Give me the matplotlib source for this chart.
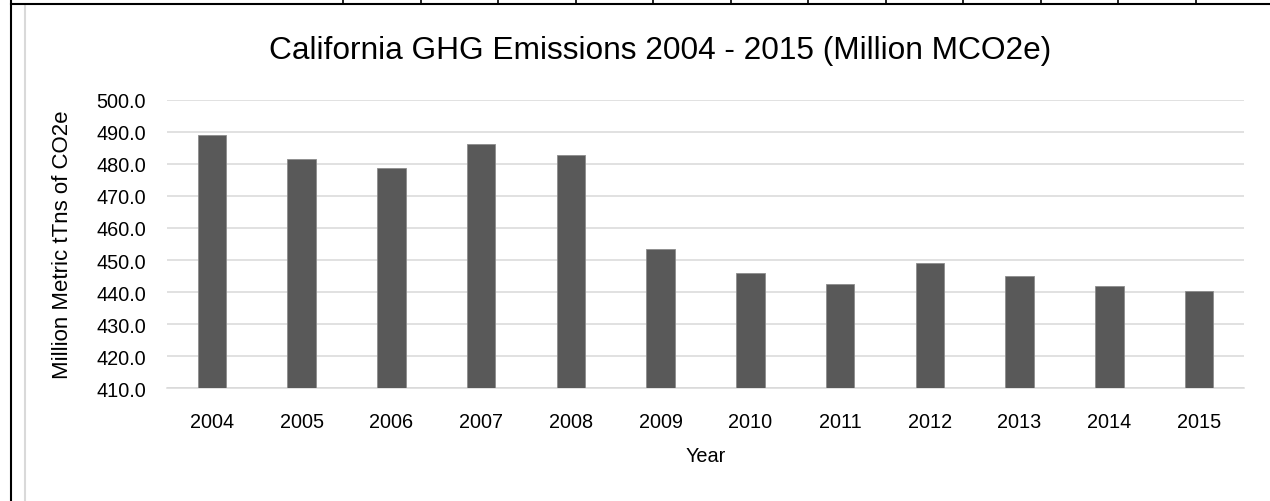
import numpy as np
import matplotlib
matplotlib.use('Agg')
import matplotlib.pyplot as plt
from matplotlib.lines import Line2D

plt.rcParams['font.family'] = ['Liberation Sans', 'DejaVu Sans']

years = ['2004', '2005', '2006', '2007', '2008', '2009',
         '2010', '2011', '2012', '2013', '2014', '2015']
emissions = [489.0, 481.5, 478.6, 486.1, 482.8, 453.4,
             446.1, 442.4, 449.1, 445.1, 441.8, 440.3]
yticks = [410, 420, 430, 440, 450, 460, 470, 480, 490, 500]

W, H = 1270, 502
fig = plt.figure(figsize=(W / 100, H / 100), dpi=100)
ax = fig.add_axes((167 / W, 1 - 389.3 / H, 1077 / W, 288.6 / H))

x = np.arange(len(years))
ax.bar(x, emissions, width=0.32, bottom=0, color='#595959',
       edgecolor='#8c8c8c', linewidth=0.6, zorder=3)

ax.set_xlim(-0.5, len(years) - 0.5)
ax.set_ylim(410, 500)
ax.set_yticks(yticks)
ax.set_yticklabels([f'{v:.1f}' for v in yticks])
ax.set_xticks(x)
ax.set_xticklabels(years)
ax.tick_params(axis='both', length=0, labelsize=14.3, colors='#000000')
ax.tick_params(axis='y', pad=15)
ax.tick_params(axis='x', pad=17)

ax.grid(axis='y', color='#d9d9d9', linewidth=1.1, zorder=0)
for s in ['top', 'right', 'left']:
    ax.spines[s].set_visible(False)
ax.spines['bottom'].set_color('#d9d9d9')
ax.spines['bottom'].set_linewidth(1.1)

ax.set_xlabel('Year', fontsize=14.3, labelpad=11)
ax.set_ylabel('Million Metric tTns of CO2e', fontsize=16)
ax.yaxis.set_label_coords(-0.0873, 0.5)

fig.text(660 / W, 1 - 51 / H, 'California GHG Emissions 2004 - 2015 (Million MCO2e)',
         ha='center', va='center', fontsize=22.8)

# spreadsheet cell borders around the chart
def px_line(xs, ys, **kw):
    fig.add_artist(Line2D([v / W for v in xs], [1 - v / H for v in ys],
                          transform=fig.transFigure, **kw))

px_line([25, 25], [6, H], color='#d9d9d9', linewidth=1.5)
px_line([11, W], [4.5, 4.5], color='black', linewidth=1.5)
px_line([11, 11], [0, H], color='black', linewidth=1.5)
for cx in np.linspace(343, 1196, 12):
    px_line([cx, cx], [0, 4.5], color='black', linewidth=1.2)

fig.savefig('out.png', dpi=100)
